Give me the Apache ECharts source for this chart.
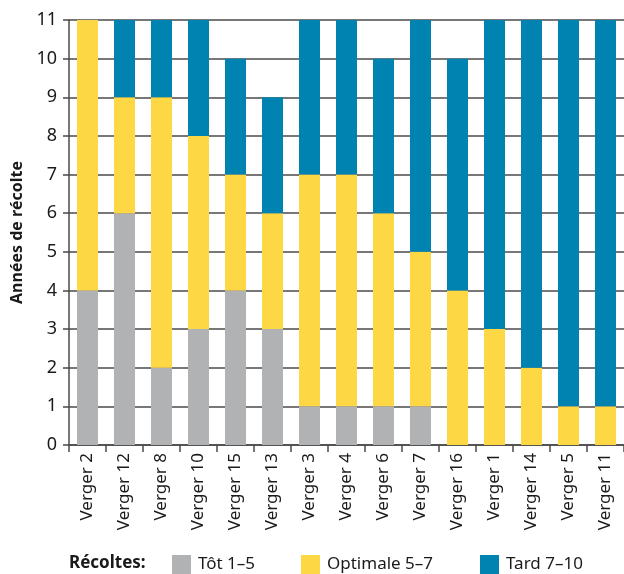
<!DOCTYPE html>
<html>
<head>
<meta charset="utf-8">
<script src="https://cdn.jsdelivr.net/npm/echarts@6/dist/echarts.min.js"></script>
<style>
  html, body { margin: 0; padding: 0; background: #fff; }
  #chart { width: 624px; height: 574px; }
</style>
</head>
<body>
<div id="chart"></div>
<script>
var categories = ["Verger 2", "Verger 12", "Verger 8", "Verger 10", "Verger 15", "Verger 13", "Verger 3", "Verger 4", "Verger 6", "Verger 7", "Verger 16", "Verger 1", "Verger 14", "Verger 5", "Verger 11"];
var tot = [4, 6, 2, 3, 4, 3, 1, 1, 1, 1, 0, 0, 0, 0, 0];
var optimale = [7, 3, 7, 5, 3, 3, 6, 6, 5, 4, 4, 3, 2, 1, 1];
var tard = [0, 2, 2, 3, 3, 3, 4, 4, 4, 6, 6, 8, 9, 10, 10];
var seriesNames = ["Tôt 1–5", "Optimale 5–7", "Tard 7–10"];

var font = "Noto Sans";
var textColor = "#1a1a1a";
var gridColor = "#4a4a4a";

function legendAt(name, left) {
  return {
    left: left,
    top: 550,
    itemWidth: 19,
    itemHeight: 19,
    itemGap: 0,
    icon: "rect",
    textStyle: { fontFamily: font, fontSize: 17, color: textColor, padding: [0, 0, 0, 2] },
    data: [name]
  };
}

var chart = echarts.init(document.getElementById("chart"));
var option = {
  animation: false,
  textStyle: { fontFamily: font, color: textColor },
  grid: { left: 69, right: 0, top: 20, bottom: 129 },
  legend: [
    legendAt(seriesNames[0], 167),
    legendAt(seriesNames[1], 296),
    legendAt(seriesNames[2], 475)
  ],
  graphic: [{
    type: "text",
    left: 69,
    top: 555,
    style: { text: "Récoltes:", font: "bold 17px Noto Sans", fill: textColor }
  }],
  xAxis: {
    type: "category",
    data: categories,
    axisLine: { lineStyle: { color: gridColor, width: 1.5 } },
    axisTick: { show: true, length: 7, lineStyle: { color: gridColor, width: 1.5 } },
    axisLabel: { rotate: 90, margin: 8, fontSize: 17, color: textColor, fontFamily: font }
  },
  yAxis: {
    type: "value",
    min: 0,
    max: 11,
    interval: 1,
    name: "Années de récolte",
    nameLocation: "middle",
    nameGap: 38,
    nameTextStyle: { fontFamily: font, fontSize: 16, fontWeight: "bold", color: textColor },
    axisLine: { show: true, lineStyle: { color: gridColor, width: 1.5 } },
    axisTick: { show: true, length: 6, lineStyle: { color: gridColor, width: 1.5 } },
    axisLabel: { fontSize: 18, margin: 12, color: textColor, fontFamily: font },
    splitLine: { show: true, lineStyle: { color: gridColor, width: 1.5 } }
  },
  series: [
    { name: seriesNames[0], type: "bar", stack: "a", data: tot, barWidth: 21, itemStyle: { color: "#b1b2b4" } },
    { name: seriesNames[1], type: "bar", stack: "a", data: optimale, barWidth: 21, itemStyle: { color: "#fdd744" } },
    { name: seriesNames[2], type: "bar", stack: "a", data: tard, barWidth: 21, itemStyle: { color: "#0083b0" } }
  ]
};
chart.setOption(option);
</script>
</body>
</html>
